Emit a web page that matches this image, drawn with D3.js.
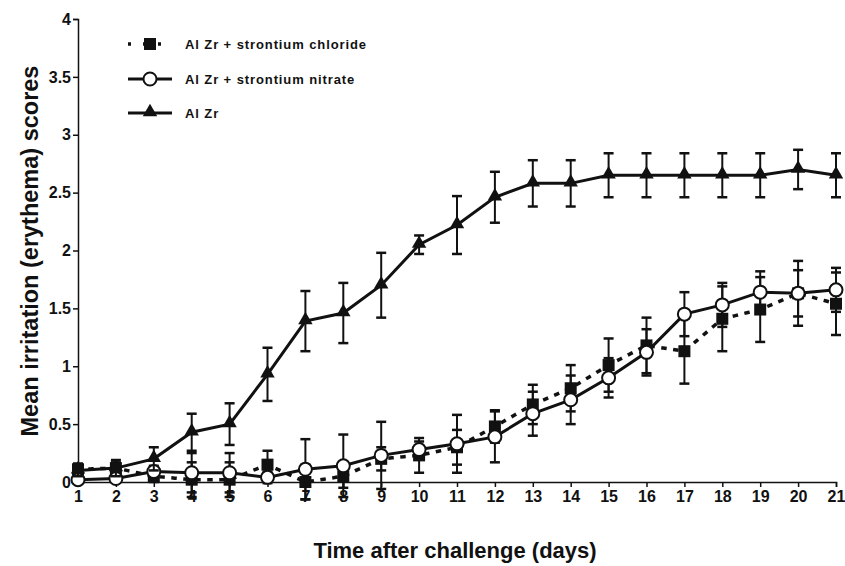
<!DOCTYPE html>
<meta charset="utf-8">
<style>
body { margin: 0; background: #fff; }
.chart text { font-family: "Liberation Sans", Arial, sans-serif; font-weight: bold; fill: #111; }
.axis path, .axis line { stroke: #111; stroke-width: 1.5; }
</style>
<svg class="chart" width="845" height="566"></svg>
<script src="https://cdn.jsdelivr.net/npm/d3@7"></script>
<script>

let days = d3.range(1, 22);
let yTicks = [0, 0.5, 1, 1.5, 2, 2.5, 3, 3.5, 4];

// Al Zr + strontium chloride (squares, dotted)
let chloride    = [0.11, 0.12, 0.05, 0.02, 0.02, 0.15, 0.00, 0.05, 0.20, 0.23, 0.30, 0.48, 0.67, 0.81, 1.01, 1.18, 1.13, 1.41, 1.49, 1.63, 1.54];
let chlorideErr = [0.05, 0.05, 0.05, 0.15, 0.15, 0.12, 0.15, 0.10, 0.10, 0.15, 0.15, 0.14, 0.17, 0.20, 0.23, 0.24, 0.28, 0.28, 0.28, 0.20, 0.27];
// Al Zr + strontium nitrate (open circles)
let nitrate     = [0.02, 0.03, 0.09, 0.08, 0.08, 0.04, 0.11, 0.14, 0.23, 0.28, 0.33, 0.39, 0.59, 0.71, 0.90, 1.12, 1.45, 1.53, 1.64, 1.63, 1.66];
let nitrateErr  = [0.03, 0.03, 0.05, 0.17, 0.17, 0.05, 0.26, 0.27, 0.29, 0.07, 0.25, 0.22, 0.19, 0.21, 0.17, 0.20, 0.19, 0.19, 0.18, 0.28, 0.19];
// Al Zr (triangles)
let alzr        = [0.10, 0.12, 0.20, 0.43, 0.50, 0.93, 1.39, 1.46, 1.70, 2.05, 2.22, 2.46, 2.58, 2.58, 2.65, 2.65, 2.65, 2.65, 2.65, 2.70, 2.65];
let alzrErr     = [0.05, 0.07, 0.10, 0.16, 0.18, 0.23, 0.26, 0.26, 0.28, 0.08, 0.25, 0.22, 0.20, 0.20, 0.19, 0.19, 0.19, 0.19, 0.19, 0.17, 0.19];

let legendLabels = ["Al Zr + strontium chloride", "Al Zr + strontium nitrate", "Al Zr"];

let svg = d3.select(".chart");

let x = d3.scaleLinear().domain([1, 21]).range([78, 836]);
let y = d3.scaleLinear().domain([0, 4]).range([482, 19]);

let series = [
  { name: legendLabels[0], values: chloride, err: chlorideErr, shape: "square", dash: "2,10" },
  { name: legendLabels[1], values: nitrate, err: nitrateErr, shape: "circle", dash: null },
  { name: legendLabels[2], values: alzr, err: alzrErr, shape: "triangle", dash: null }
];

// axes
svg.append("g")
    .attr("class", "axis")
    .attr("transform", "translate(78,0)")
    .call(d3.axisLeft(y).tickValues(yTicks).tickSize(5).tickFormat(d => d))
    .call(g => g.selectAll("text").attr("font-size", 16).attr("x", -7));

svg.append("g")
    .attr("class", "axis")
    .attr("transform", "translate(0,482)")
    .call(d3.axisBottom(x).tickValues(days).tickSize(5).tickFormat(d3.format("d")))
    .call(g => g.selectAll("text").attr("font-size", 16).attr("y", 9));

svg.selectAll(".axis .domain").attr("stroke-width", 1.5);

// axis titles
svg.append("text")
    .attr("transform", "translate(38,251) rotate(-90)")
    .attr("text-anchor", "middle")
    .attr("font-size", 23.5)
    .text("Mean irritation (erythema) scores");

svg.append("text")
    .attr("x", 455)
    .attr("y", 558)
    .attr("text-anchor", "middle")
    .attr("font-size", 22)
    .text("Time after challenge (days)");

let line = d3.line().x((d, i) => x(days[i])).y(d => y(d));

function drawMarker(g, shape, cx, cy) {
  if (shape === "square") {
    g.append("rect").attr("x", cx - 6).attr("y", cy - 6).attr("width", 12).attr("height", 12)
      .attr("fill", "#111");
  } else if (shape === "circle") {
    g.append("circle").attr("cx", cx).attr("cy", cy).attr("r", 6.5)
      .attr("fill", "#fff").attr("stroke", "#111").attr("stroke-width", 2);
  } else {
    g.append("path").attr("d", d3.symbol(d3.symbolTriangle, 90)())
      .attr("transform", "translate(" + cx + "," + (cy - 1) + ")")
      .attr("fill", "#111");
  }
}

series.forEach(s => {
  let g = svg.append("g");

  // error bars
  s.values.forEach((v, i) => {
    let cx = x(days[i]), lo = y(v - s.err[i]), hi = y(v + s.err[i]);
    g.append("line").attr("x1", cx).attr("x2", cx).attr("y1", lo).attr("y2", hi)
      .attr("stroke", "#111").attr("stroke-width", 2);
    [lo, hi].forEach(yy => g.append("line")
      .attr("x1", cx - 5).attr("x2", cx + 5).attr("y1", yy).attr("y2", yy)
      .attr("stroke", "#111").attr("stroke-width", 2.5));
  });

  g.append("path")
      .attr("d", line(s.values))
      .attr("fill", "none")
      .attr("stroke", "#111")
      .attr("stroke-width", s.dash ? 3.5 : 3)
      .attr("stroke-linecap", s.dash ? "square" : "butt")
      .attr("stroke-dasharray", s.dash);

  s.values.forEach((v, i) => drawMarker(g, s.shape, x(days[i]), y(v)));
});

// legend
let legendY = [44, 79, 113];
series.forEach((s, i) => {
  let g = svg.append("g");
  g.append("line").attr("x1", 128).attr("x2", 172).attr("y1", legendY[i]).attr("y2", legendY[i])
    .attr("stroke", "#111").attr("stroke-width", s.dash ? 3.5 : 3)
    .attr("stroke-dasharray", s.dash ? "3,12" : null);
  drawMarker(g, s.shape, 150, legendY[i]);
  g.append("text").attr("x", 185).attr("y", legendY[i] + 4.5)
    .attr("font-size", 13).attr("letter-spacing", 0.9).text(s.name);
});

</script>
